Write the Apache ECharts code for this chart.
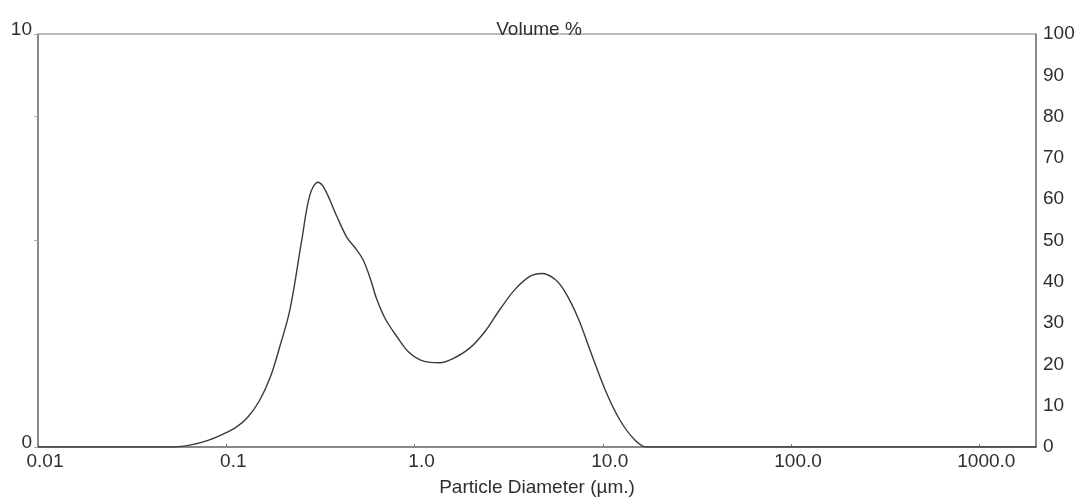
<!DOCTYPE html>
<html>
<head>
<meta charset="utf-8">
<script src="https://cdn.jsdelivr.net/npm/echarts@6/dist/echarts.min.js"></script>
<style>html,body{margin:0;padding:0;background:#fff;}#c{width:1078px;height:500px;}</style>
</head>
<body>
<div id="c"></div>
<script>
// Particle diameter (µm) and volume %
const diameters = [0.01, 0.052, 0.065, 0.08, 0.095, 0.113, 0.13, 0.15, 0.171, 0.193, 0.218, 0.252, 0.278, 0.307, 0.334, 0.387, 0.438, 0.482, 0.532, 0.58, 0.631, 0.70, 0.807, 0.93, 1.07, 1.21, 1.36, 1.60, 1.97, 2.36, 2.84, 3.41, 4.10, 4.75, 5.57, 6.29, 7.38, 8.55, 10.3, 12.3, 14.8, 17.1, 2000];
const volume    = [0, 0, 0.05, 0.16, 0.30, 0.48, 0.72, 1.12, 1.68, 2.45, 3.33, 5.02, 6.10, 6.41, 6.24, 5.58, 5.07, 4.83, 4.54, 4.10, 3.57, 3.10, 2.67, 2.30, 2.11, 2.05, 2.04, 2.14, 2.40, 2.79, 3.33, 3.81, 4.13, 4.20, 4.06, 3.76, 3.13, 2.35, 1.38, 0.66, 0.17, 0, 0];
const xTickLabels = {0.01: '0.01', 0.1: '0.1', 1: '1.0', 10: '10.0', 100: '100.0', 1000: '1000.0'};
const rightTicks = [0, 10, 20, 30, 40, 50, 60, 70, 80, 90, 100];
const leftLabels = [0, 10];
const leftTicks = [0, 5, 8, 10];

const chart = echarts.init(document.getElementById('c'));
const font = 'Liberation Sans, Arial, sans-serif';
const axisGray = '#7a7a7a';
const txt = '#2e2e2e';
chart.setOption({
  animation: false,
  backgroundColor: '#fff',
  title: {
    text: 'Volume %', left: 'center', top: 15,
    textStyle: {fontFamily: font, fontSize: 19, fontWeight: 'normal', color: txt}
  },
  grid: {left: 38, right: 42, top: 34, bottom: 53, show: true, borderColor: axisGray, borderWidth: 1, outerBoundsMode: 'none', containLabel: false},
  xAxis: {
    type: 'log', logBase: 10, min: 0.01, max: 2000,
    name: 'Particle Diameter (µm.)', nameLocation: 'middle', nameGap: 31,
    nameTextStyle: {fontFamily: font, fontSize: 19, color: txt},
    axisLine: {show: true, lineStyle: {color: axisGray, width: 1.5}},
    axisTick: {show: true, inside: true, length: 3, lineStyle: {color: axisGray}},
    splitLine: {show: false},
    axisLabel: {
      fontFamily: font, fontSize: 19, color: txt, margin: 5,
      padding: [0, 0, 0, 14],
      formatter: function (v) {
        const k = Object.keys(xTickLabels).find(key => Math.abs(Math.log10(+key) - Math.log10(v)) < 1e-6);
        return k !== undefined ? xTickLabels[k] : '';
      }
    }
  },
  yAxis: [
    {
      type: 'value', min: 0, max: 10, interval: 1, position: 'left',
      axisLine: {show: true, lineStyle: {color: axisGray, width: 1.5}},
      axisTick: {show: true, length: 4, lineStyle: {color: '#aaa'}, customValues: leftTicks},
      splitLine: {show: false},
      axisLabel: {fontFamily: font, fontSize: 19, color: txt, margin: 6, verticalAlign: 'bottom', lineHeight: 9, customValues: leftLabels}
    },
    {
      type: 'value', min: 0, max: 100, interval: 10, position: 'right',
      axisLine: {show: true, lineStyle: {color: axisGray, width: 1.5}},
      axisTick: {show: false},
      splitLine: {show: false},
      axisLabel: {fontFamily: font, fontSize: 19, color: txt, margin: 7, customValues: rightTicks}
    }
  ],
  series: [{
    type: 'line', yAxisIndex: 0,
    data: diameters.map((d, i) => [d, volume[i]]),
    smooth: 0.35, showSymbol: false,
    lineStyle: {color: '#3a3a3a', width: 1.4}
  }]
});
</script>
</body>
</html>
